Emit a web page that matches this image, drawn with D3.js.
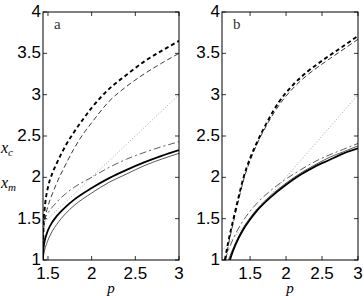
<!DOCTYPE html>
<html lang="en">
<head>
  <meta charset="UTF-8">
  <title>x_c and x_m versus p</title>
  <script src="https://d3js.org/d3.v7.min.js"></script>
  <style>
    body { margin: 0; background: #fff; }
    svg { display: block; }
    .tick-label { font-family: "Liberation Sans", Arial, Helvetica, sans-serif; font-size: 17px; fill: #000; }
    .math { font-family: "Liberation Serif", "DejaVu Serif", serif; font-style: italic; fill: #000; }
    .panel-tag { font-family: "Liberation Serif", serif; font-size: 15px; fill: #333; }
  </style>
</head>
<body>
  <div id="chart"></div>
  <script>
    // ticks
    const xTicks = [1.5, 2, 2.5, 3];
    const yTicks = [1, 1.5, 2, 2.5, 3, 3.5, 4];

    // panel a  (p, value)
    const aThickDashed = [[1.443, 1.0], [1.446, 1.25], [1.45, 1.45], [1.46, 1.6], [1.47, 1.7], [1.5, 1.88], [1.55, 2.05], [1.6, 2.17],
      [1.7, 2.38], [1.8, 2.55], [1.9, 2.7], [2.0, 2.84], [2.2, 3.07], [2.4, 3.24], [2.6, 3.4], [2.8, 3.53], [3, 3.65]];
    const aThinDashed  = [[1.443, 1.0], [1.446, 1.2], [1.45, 1.35], [1.47, 1.52], [1.5, 1.65], [1.55, 1.8], [1.6, 1.93],
      [1.7, 2.15], [1.8, 2.35], [1.9, 2.52], [2.0, 2.66], [2.2, 2.92], [2.4, 3.1], [2.6, 3.25], [2.8, 3.38], [3, 3.5]];
    const aDotted      = [[1.443, 1.443], [2, 2], [3, 3]];
    const aDashDot     = [[1.443, 1.47], [1.5, 1.57], [1.6, 1.7], [1.7, 1.8], [1.8, 1.88], [2.0, 2.0], [2.2, 2.12],
      [2.4, 2.22], [2.6, 2.3], [2.8, 2.37], [3, 2.43]];
    const aThickSolid  = [[1.443, 1.0], [1.445, 1.08], [1.45, 1.15], [1.46, 1.22], [1.48, 1.3], [1.5, 1.36], [1.55, 1.46], [1.6, 1.53],
      [1.7, 1.64], [1.8, 1.73], [2.0, 1.87], [2.2, 1.99], [2.4, 2.09], [2.6, 2.18], [2.8, 2.26], [3, 2.33]];
    const aThinSolid   = [[1.443, 1.0], [1.45, 1.06], [1.47, 1.15], [1.5, 1.24], [1.55, 1.35], [1.6, 1.43], [1.7, 1.56],
      [1.8, 1.66], [2.0, 1.81], [2.2, 1.94], [2.4, 2.04], [2.6, 2.14], [2.8, 2.22], [3, 2.29]];

    // panel b
    const bThickDashed = [[1.15, 1.0], [1.2, 1.23], [1.27, 1.5], [1.34, 1.76], [1.41, 2.0], [1.5, 2.23], [1.6, 2.43], [1.75, 2.69],
      [1.9, 2.91], [2.1, 3.12], [2.3, 3.28], [2.5, 3.41], [2.75, 3.56], [3, 3.71]];
    const bThinDashed  = [[1.16, 1.0], [1.21, 1.23], [1.28, 1.5], [1.35, 1.76], [1.42, 2.0], [1.5, 2.2], [1.6, 2.41], [1.75, 2.66],
      [1.9, 2.87], [2.1, 3.08], [2.3, 3.24], [2.5, 3.37], [2.75, 3.52], [3, 3.67]];
    const bDotted      = [[1.11, 1.11], [2, 2], [3, 3]];
    const bDashDot     = [[1.15, 1.0], [1.2, 1.12], [1.3, 1.32], [1.4, 1.47], [1.5, 1.59], [1.6, 1.69], [1.8, 1.85], [2.0, 1.98],
      [2.2, 2.09], [2.4, 2.19], [2.6, 2.27], [2.8, 2.34], [3, 2.41]];
    const bThickSolid  = [[1.22, 1.0], [1.25, 1.08], [1.3, 1.19], [1.4, 1.36], [1.5, 1.49], [1.6, 1.6], [1.8, 1.77], [2.0, 1.91],
      [2.2, 2.03], [2.4, 2.13], [2.6, 2.21], [2.8, 2.29], [3, 2.35]];
    const bThinSolid   = [[1.2, 1.0], [1.25, 1.11], [1.3, 1.21], [1.4, 1.38], [1.5, 1.51], [1.6, 1.62], [1.8, 1.79], [2.0, 1.93],
      [2.2, 2.05], [2.4, 2.15], [2.6, 2.24], [2.8, 2.31], [3, 2.38]];

    const styles = {
      thickDashed: { stroke: "#000", width: 1.9, dash: "4,3" },
      thinDashed:  { stroke: "#222", width: 0.9, dash: "5,3" },
      dotted:      { stroke: "#999", width: 0.9, dash: "1,2" },
      dashDot:     { stroke: "#333", width: 0.8, dash: "7,3,2,3" },
      thickSolid:  { stroke: "#000", width: 1.8, dash: null },
      thinSolid:   { stroke: "#444", width: 0.9, dash: null }
    };

    const panels = [
      { tag: "a", left: 43, right: 179, xmin: 1.443, series: [
        ["dotted", aDotted], ["dashDot", aDashDot], ["thinSolid", aThinSolid], ["thickSolid", aThickSolid],
        ["thinDashed", aThinDashed], ["thickDashed", aThickDashed]] },
      { tag: "b", left: 222, right: 358, xmin: 1.11, series: [
        ["dotted", bDotted], ["dashDot", bDashDot], ["thinSolid", bThinSolid], ["thickSolid", bThickSolid],
        ["thinDashed", bThinDashed], ["thickDashed", bThickDashed]] }
    ];

    const plotTop = 12, plotBottom = 260;

    const svg = d3.select("#chart").append("svg")
      .attr("width", 364)
      .attr("height", 296);

    panels.forEach((p, i) => {
      const x = d3.scaleLinear().domain([p.xmin, 3]).range([p.left, p.right]);
      const y = d3.scaleLinear().domain([1, 4]).range([plotBottom, plotTop]);
      const g = svg.append("g");

      g.append("clipPath").attr("id", "clip" + i)
        .append("rect")
        .attr("x", p.left).attr("y", plotTop)
        .attr("width", p.right - p.left).attr("height", plotBottom - plotTop);

      const line = d3.line()
        .x(d => x(d[0]))
        .y(d => y(d[1]))
        .curve(d3.curveMonotoneX);

      const plot = g.append("g").attr("clip-path", `url(#clip${i})`);
      p.series.forEach(([kind, data]) => {
        const s = styles[kind];
        plot.append("path")
          .datum(data)
          .attr("d", line)
          .attr("fill", "none")
          .attr("stroke", s.stroke)
          .attr("stroke-width", s.width)
          .attr("stroke-dasharray", s.dash);
      });

      // inward ticks on all four sides
      const tl = 4;
      xTicks.forEach(t => {
        g.append("line").attr("x1", x(t)).attr("x2", x(t)).attr("y1", plotBottom).attr("y2", plotBottom - tl).attr("stroke", "#000").attr("stroke-width", 0.8);
        g.append("line").attr("x1", x(t)).attr("x2", x(t)).attr("y1", plotTop).attr("y2", plotTop + tl).attr("stroke", "#000").attr("stroke-width", 0.8);
        g.append("text").attr("class", "tick-label")
          .attr("x", x(t)).attr("y", 279)
          .attr("text-anchor", "middle")
          .text(t);
      });
      yTicks.forEach(t => {
        g.append("line").attr("x1", p.left).attr("x2", p.left + tl).attr("y1", y(t)).attr("y2", y(t)).attr("stroke", "#000").attr("stroke-width", 0.8);
        g.append("line").attr("x1", p.right).attr("x2", p.right - tl).attr("y1", y(t)).attr("y2", y(t)).attr("stroke", "#000").attr("stroke-width", 0.8);
        g.append("text").attr("class", "tick-label")
          .attr("x", p.left - 2).attr("y", y(t) + 5)
          .attr("text-anchor", "end")
          .text(t);
      });

      g.append("rect")
        .attr("x", p.left).attr("y", plotTop)
        .attr("width", p.right - p.left).attr("height", plotBottom - plotTop)
        .attr("fill", "none").attr("stroke", "#000").attr("stroke-width", 1);

      g.append("text").attr("class", "panel-tag")
        .attr("x", p.left + 11).attr("y", 29)
        .text(p.tag);

      g.append("text").attr("class", "math")
        .attr("x", (p.left + p.right) / 2).attr("y", 293)
        .attr("text-anchor", "middle")
        .style("font-size", "15px")
        .text("p");
    });

    // y-axis labels (panel a only)
    const xc = svg.append("text").attr("class", "math").attr("x", 1).attr("y", 153).style("font-size", "16px");
    xc.append("tspan").text("x");
    xc.append("tspan").attr("dy", 3).style("font-size", "11px").text("c");
    const xm = svg.append("text").attr("class", "math").attr("x", 1).attr("y", 188).style("font-size", "16px");
    xm.append("tspan").text("x");
    xm.append("tspan").attr("dy", 3).style("font-size", "11px").text("m");
  </script>
</body>
</html>
